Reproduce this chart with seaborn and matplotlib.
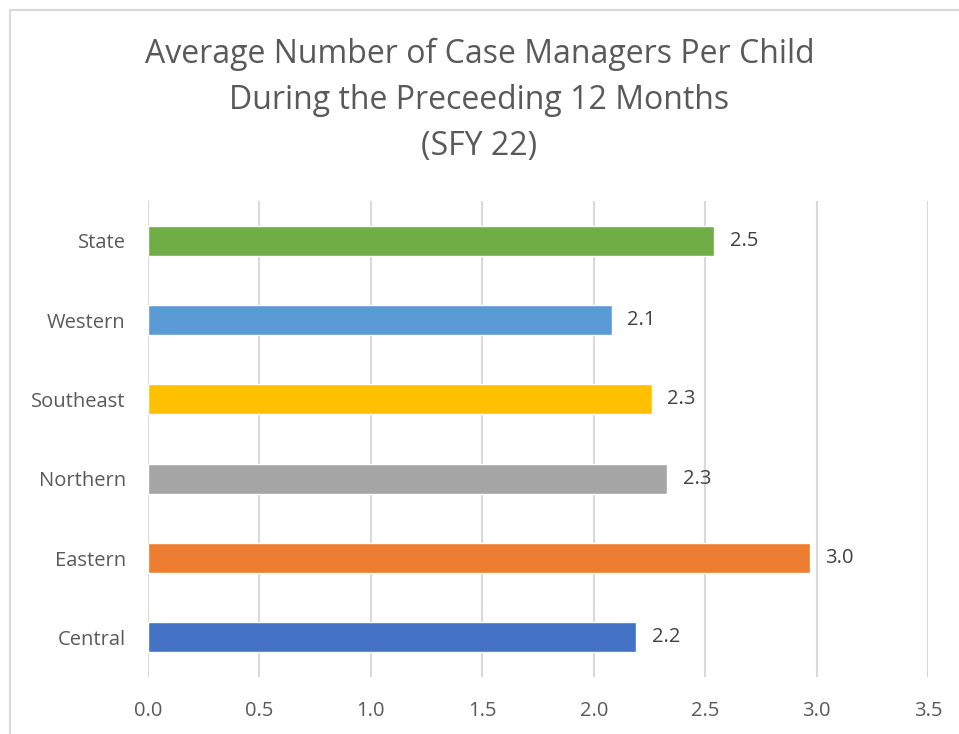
import matplotlib
matplotlib.use("Agg")
import matplotlib.pyplot as plt
import seaborn as sns
import pandas as pd
from matplotlib.patches import Rectangle

#%% data
regions = ["State", "Western", "Southeast", "Northern", "Eastern", "Central"]
avg_managers = [2.54, 2.08, 2.26, 2.33, 2.97, 2.19]
bar_colors = ["#70AD47", "#5B9BD5", "#FFC000", "#A5A5A5", "#ED7D31", "#4472C4"]
x_ticks = [0.0, 0.5, 1.0, 1.5, 2.0, 2.5, 3.0, 3.5]

df = pd.DataFrame({"Region": regions, "Average": avg_managers})

#%% plot
sns.set_theme(style="white")
plt.rcParams["font.family"] = ["Open Sans", "DejaVu Sans"]

fig = plt.figure(figsize=(9.59, 7.34), dpi=100)
ax = fig.add_axes([148 / 959, 1 - 677 / 734, 780 / 959, 476 / 734])

sns.barplot(data=df, x="Average", y="Region", hue="Region", palette=bar_colors,
            legend=False, width=0.38, ax=ax, saturation=1)

ax.set_xlim(0, 3.5)
ax.set_ylim(5.5, -0.5)
ax.set_xticks(x_ticks)
ax.set_xticklabels([f"{t:.1f}" for t in x_ticks])
ax.set_xlabel("")
ax.set_ylabel("")
ax.grid(axis="x", color="#D9D9D9", linewidth=1.5)
ax.set_axisbelow(True)
for s in ax.spines.values():
    s.set_visible(False)
ax.tick_params(axis="both", length=0, labelsize=14.5, colors="#595959")
ax.tick_params(axis="x", pad=17)
ax.tick_params(axis="y", pad=16)

for i, v in enumerate(avg_managers):
    ax.text(v + 0.07, i, f"{v:.1f}", va="center", ha="left", fontsize=14.5, color="#404040")

fig.text(0.5, 1 - 100 / 734,
         "Average Number of Case Managers Per Child\nDuring the Preceeding 12 Months\n(SFY 22)",
         ha="center", va="center", fontsize=23, color="#595959", linespacing=1.52)

fig.patches.append(Rectangle((10 / 959, -0.1), 1.2, 1 - 10 / 734 + 0.1,
                             transform=fig.transFigure, fill=False,
                             edgecolor="#D9D9D9", linewidth=1.5))

fig.savefig("out.png", dpi=100)
